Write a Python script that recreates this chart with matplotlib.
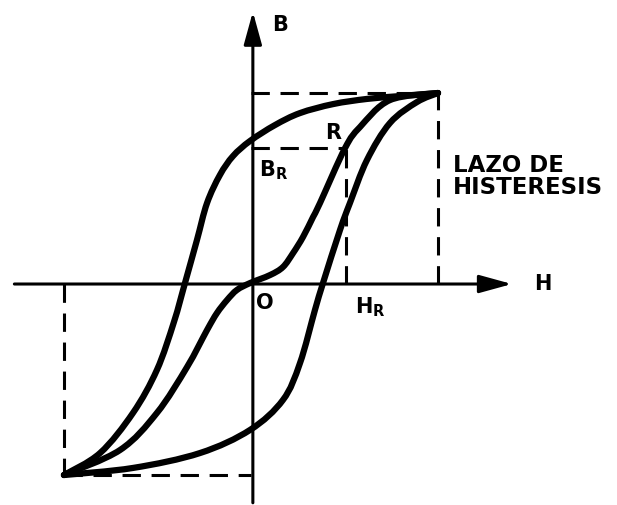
import numpy as np
import matplotlib.pyplot as plt
from matplotlib.path import Path
from matplotlib.patches import PathPatch

# rama descendente (superior) del lazo
h_sup = [1.0, 0.797, 0.620, 0.439, 0.262, 0.128, -0.005, -0.096, -0.166, -0.235, -0.289,
         -0.353, -0.412, -0.503, -0.631, -0.807, -1.0]
b_sup = [1.0, 0.984, 0.969, 0.942, 0.895, 0.832, 0.749, 0.670, 0.571, 0.424, 0.230,
         0.005, -0.199, -0.450, -0.675, -0.885, -1.0]

# rama ascendente (inferior) del lazo
h_inf = [-1.0, -0.631, -0.273, -0.005, 0.171, 0.262, 0.342, 0.385, 0.476, 0.529, 0.620,
         0.743, 0.888, 1.0]
b_inf = [-1.0, -0.963, -0.885, -0.764, -0.607, -0.414, -0.136, 0.005, 0.283, 0.424, 0.649,
         0.843, 0.953, 1.0]

# curva central
h_ini = [-1.0, -0.700, -0.503, -0.342, -0.235, -0.182, -0.128, -0.075, -0.005, 0.102,
         0.171, 0.225, 0.278, 0.332, 0.369, 0.503, 0.583, 0.743, 1.0]
b_ini = [-1.0, -0.869, -0.675, -0.435, -0.241, -0.152, -0.084, -0.031, 0.005, 0.047,
         0.089, 0.162, 0.246, 0.351, 0.424, 0.712, 0.822, 0.963, 1.0]

h_max, b_max = 1.0, 1.0
h_r, b_r = 0.51, 0.712


def curva_suave(ax, hs, bs, **kw):
    """Dibuja una curva suave (Bezier) que pasa por los puntos leidos"""
    p = np.column_stack([hs, bs])
    verts = [p[0]]
    codes = [Path.MOVETO]
    n = len(p)
    for i in range(n - 1):
        p0 = p[i - 1] if i > 0 else p[i]
        p3 = p[i + 2] if i + 2 < n else p[i + 1]
        c1 = p[i] + (p[i + 1] - p0) / 6.0
        c2 = p[i + 1] - (p3 - p[i]) / 6.0
        verts += [c1, c2, p[i + 1]]
        codes += [Path.CURVE4] * 3
    ax.add_patch(PathPatch(Path(verts, codes), fill=False, **kw))


fig = plt.figure(figsize=(6.17, 5.05), dpi=100)
ax = fig.add_axes([0, 0, 1, 1])
ax.set_xlim(-1.342, 1.957)
ax.set_ylim(-1.157, 1.487)
ax.axis('off')

# ejes con flechas
flecha = dict(arrowstyle='-|>,head_length=2.0,head_width=0.55', lw=2.2, color='black',
              mutation_scale=10)
ax.annotate('', xy=(1.41, 0), xytext=(-1.28, 0), arrowprops=flecha)
ax.annotate('', xy=(0.01, 1.44), xytext=(0.01, -1.16), arrowprops=flecha)

# lineas de trazos
kw = dict(color='black', lw=2.2, dashes=(6, 3.5))
ax.plot([0, h_max], [b_max, b_max], **kw)
ax.plot([h_max, h_max], [0, b_max], **kw)
ax.plot([-h_max, -h_max], [0, -b_max], **kw)
ax.plot([-h_max, 0], [-b_max, -b_max], **kw)
ax.plot([0, h_r], [b_r, b_r], **kw)
ax.plot([h_r, h_r], [0, b_r], **kw)

# curvas
ckw = dict(edgecolor='black', lw=4.5, joinstyle='round', capstyle='round')
curva_suave(ax, h_sup, b_sup, **ckw)
curva_suave(ax, h_inf, b_inf, **ckw)
curva_suave(ax, h_ini, b_ini, **ckw)

# textos
tkw = dict(fontsize=15, fontweight='bold', color='black')
ax.text(0.155, 1.356, 'B', ha='center', va='center', **tkw)
ax.text(1.56, 0.0, 'H', ha='center', va='center', **tkw)
ax.text(0.075, -0.10, 'O', ha='center', va='center', **tkw)
ax.text(0.44, 0.79, 'R', ha='center', va='center', **tkw)
ax.text(0.118, 0.597, r'$\mathbf{B_R}$', ha='center', va='center', **tkw)
ax.text(0.636, -0.12, r'$\mathbf{H_R}$', ha='center', va='center', **tkw)
ax.text(1.08, 0.623, 'LAZO DE', ha='left', va='center', fontsize=16.5,
        fontweight='bold')
ax.text(1.08, 0.503, 'HISTERESIS', ha='left', va='center', fontsize=16.5,
        fontweight='bold')

fig.savefig('out.png', dpi=100)
